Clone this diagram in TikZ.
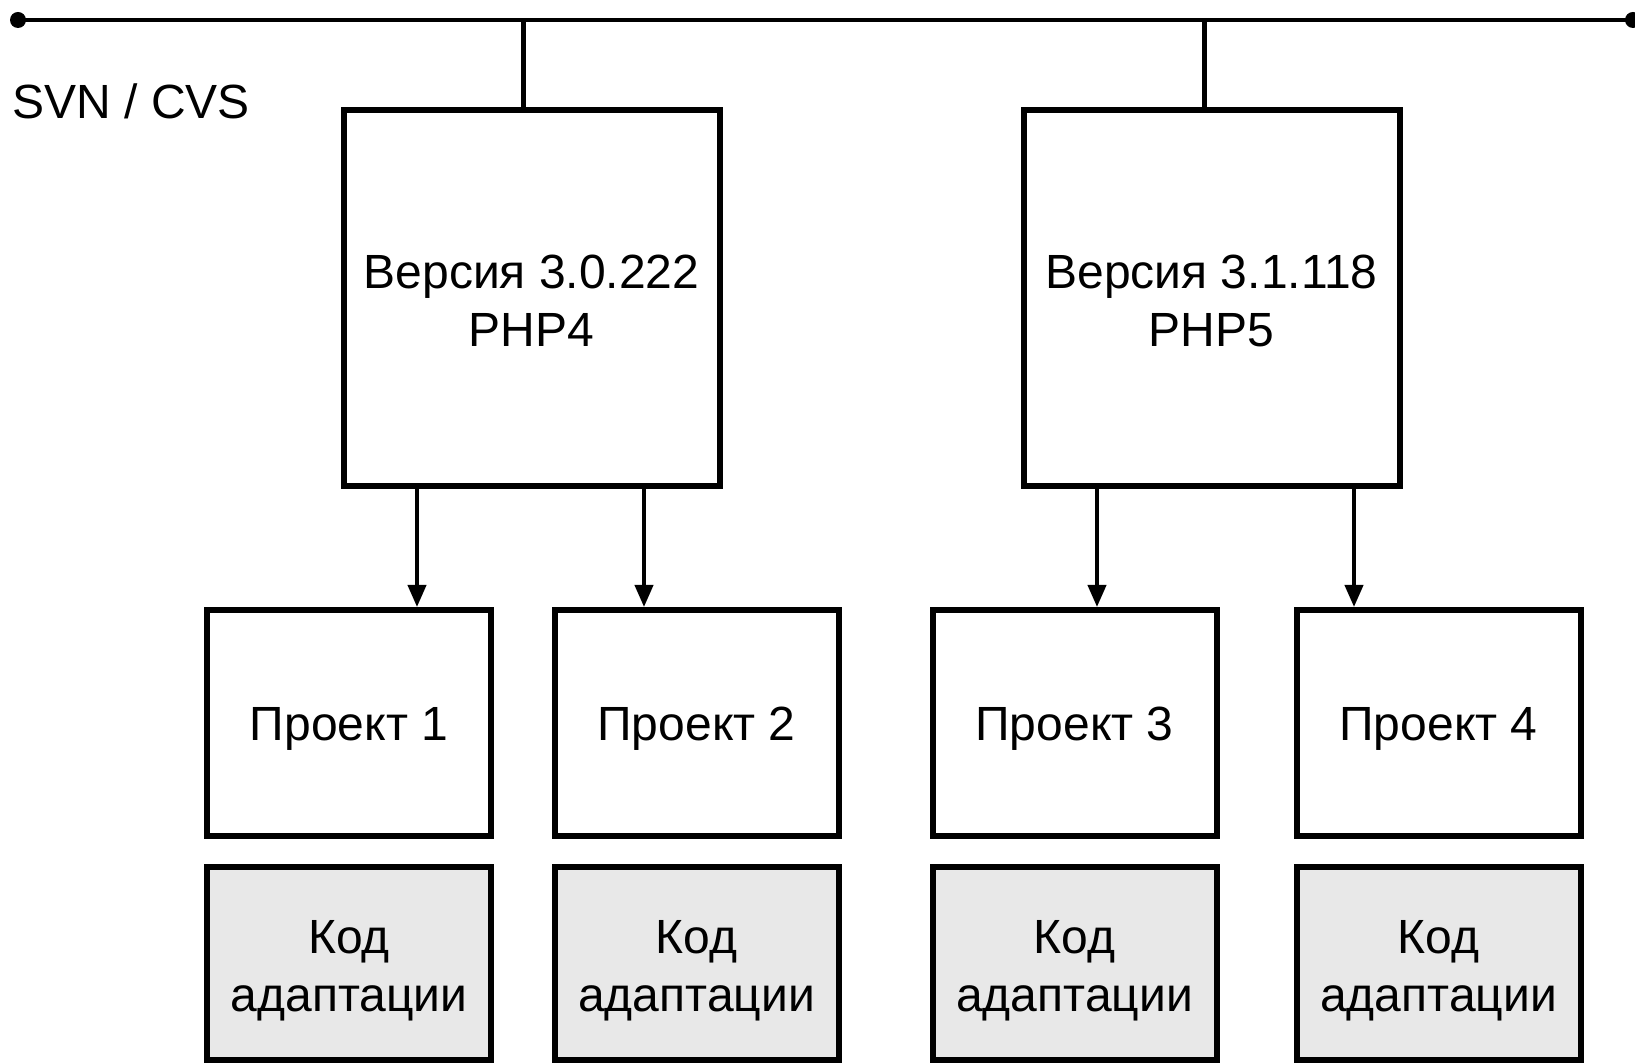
\documentclass[tikz,border=0pt]{standalone}
\usepackage{fontspec}
\setmainfont{Liberation Sans}
\usetikzlibrary{arrows.meta}
\newcommand{\lowerby}[1]{\rule{0pt}{\dimexpr 17.2pt+#1\relax}}
\begin{document}
\begin{tikzpicture}[x=0.5pt,y=-0.5pt,
  font=\fontsize{24}{29}\selectfont,
  box/.style={draw,line width=3pt,rectangle,inner sep=0pt,align=center},
  verbox/.style={box,minimum width=188pt,minimum height=188pt},
  projbox/.style={box,minimum width=142pt,minimum height=113pt},
  codebox/.style={box,fill=black!9,minimum width=142pt,minimum height=96.5pt},
  bus/.style={line width=2pt},
  stub/.style={line width=2.5pt},
  arr/.style={line width=2pt,-{Triangle[width=9pt,length=11pt]}},
  dot/.style={fill=black,circle,inner sep=0pt,minimum size=8pt}
]
\useasboundingbox (0,0) rectangle (1635,1063);
% bus
\node[dot] (L) at (18,20) {};
\node[dot] (R) at (1633,20) {};
\draw[bus] (L.center) -- (R.center);
\node[anchor=base west,inner sep=0pt] (svn) at (12,119) {SVN / CVS};
% versions
\node[verbox] (v1) at (531.5,298.5) {\lowerby{2pt}Версия 3.0.222\\PHP4};
\node[verbox] (v2) at (1211.5,298.5) {\lowerby{2pt}Версия 3.1.118\\PHP5};
\coordinate (t1) at (523,20);
\coordinate (t2) at (1204,20);
\draw[stub] (t1) -- (v1.north -| t1);
\draw[stub] (t2) -- (v2.north -| t2);
% projects
\node[projbox] (p1) at (349,723) {\lowerby{5pt}Проект 1};
\node[projbox] (p2) at (696.5,723) {\lowerby{5pt}Проект 2};
\node[projbox] (p3) at (1074.5,723) {\lowerby{5pt}Проект 3};
\node[projbox] (p4) at (1438.5,723) {\lowerby{5pt}Проект 4};
% code boxes
\node[codebox] (c1) at (349,963.5) {\lowerby{7pt}Код\\адаптации};
\node[codebox] (c2) at (696.5,963.5) {\lowerby{7pt}Код\\адаптации};
\node[codebox] (c3) at (1074.5,963.5) {\lowerby{7pt}Код\\адаптации};
\node[codebox] (c4) at (1438.5,963.5) {\lowerby{7pt}Код\\адаптации};
% arrows
\coordinate (a1) at (417,0);
\coordinate (a2) at (644,0);
\coordinate (a3) at (1097,0);
\coordinate (a4) at (1354,0);
\draw[arr] (v1.south -| a1) -- (p1.north -| a1);
\draw[arr] (v1.south -| a2) -- (p2.north -| a2);
\draw[arr] (v2.south -| a3) -- (p3.north -| a3);
\draw[arr] (v2.south -| a4) -- (p4.north -| a4);
\end{tikzpicture}
\end{document}
